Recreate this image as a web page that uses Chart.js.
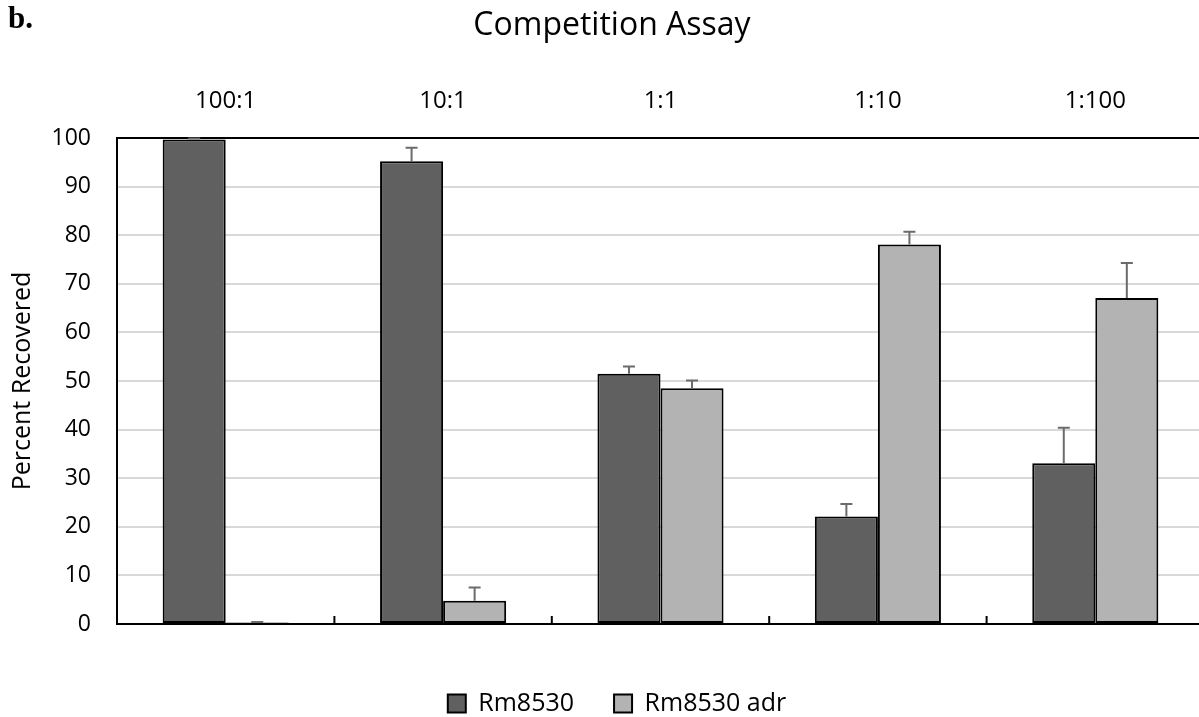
<!DOCTYPE html>
<html>
<head>
<meta charset="utf-8">
<script src="https://cdn.jsdelivr.net/npm/chart.js@4/dist/chart.umd.min.js"></script>
<style>
  html, body { margin: 0; padding: 0; background: #fff; overflow: hidden; }
  #wrap { position: relative; width: 1215px; height: 717px; }
  #tag { position: absolute; left: 8px; top: 0px; line-height: 1; font: bold 31px "Liberation Serif", serif; color: #000; }
</style>
</head>
<body>
<div id="wrap">
  <canvas id="myChart"></canvas>
  <div id="tag">b.</div>
</div>
<script>
const categories = ["100:1", "10:1", "1:1", "1:10", "1:100"];
const rm8530 = [99.7, 95.2, 51.5, 22.1, 33.1];
const rm8530Err = [0.2, 2.8, 1.5, 2.6, 7.3];
const rm8530adr = [0.3, 4.8, 48.5, 78.1, 67.1];
const rm8530adrErr = [0.1, 2.7, 1.6, 2.6, 7.2];
const yTicks = [0, 10, 20, 30, 40, 50, 60, 70, 80, 90, 100];

const fontName = "'Open Sans', sans-serif";

// error bars + inner ticks at the bottom, and nudge title/legend
const extras = {
    id: "extras",
    afterLayout(chart) {
        chart.titleBlock.left += 10; chart.titleBlock.right += 10;
        chart.legend.left += 15; chart.legend.right += 15;
        chart.legend.top += 27; chart.legend.bottom += 27;
    },
    afterDatasetsDraw(chart) {
        const ctx = chart.ctx;
        const y = chart.scales.y;
        const x = chart.scales.x;
        const errs = [rm8530Err, rm8530adrErr];
        ctx.save();
        ctx.strokeStyle = "#6b6b6b";
        ctx.lineWidth = 2;
        chart.data.datasets.forEach((ds, di) => {
            const meta = chart.getDatasetMeta(di);
            meta.data.forEach((bar, i) => {
                const top = y.getPixelForValue(ds.data[i]);
                const hi = y.getPixelForValue(ds.data[i] + errs[di][i]);
                ctx.beginPath();
                ctx.moveTo(bar.x, top);
                ctx.lineTo(bar.x, hi);
                ctx.moveTo(bar.x - 6, hi);
                ctx.lineTo(bar.x + 6, hi);
                ctx.stroke();
            });
        });
        // short tick marks between categories
        ctx.strokeStyle = "#000";
        const bottom = chart.chartArea.bottom;
        for (let i = 0; i < categories.length - 1; i++) {
            const px = (x.getPixelForValue(i) + x.getPixelForValue(i + 1)) / 2;
            ctx.beginPath();
            ctx.moveTo(px, bottom);
            ctx.lineTo(px, bottom - 8);
            ctx.stroke();
        }
        ctx.restore();
    }
};

new Chart(document.getElementById("myChart"), {
    type: "bar",
    data: {
        labels: categories,
        datasets: [
            {
                label: "Rm8530",
                data: rm8530,
                backgroundColor: "#606060",
                borderColor: "#000",
                borderWidth: 2,
                borderSkipped: false
            },
            {
                label: "Rm8530 adr",
                data: rm8530adr,
                backgroundColor: "#b3b3b3",
                borderColor: "#000",
                borderWidth: 2,
                borderSkipped: false
            }
        ]
    },
    options: {
        responsive: true,
        maintainAspectRatio: false,
        animation: false,
        layout: { padding: { left: 0, right: 11, top: 0, bottom: 18 } },
        datasets: { bar: { categoryPercentage: 0.58, barPercentage: 1.0 } },
        scales: {
            x: {
                position: "top",
                afterFit: (axis) => { axis.height = 52; },
                grid: { display: false, drawTicks: false },
                border: { display: true, color: "#000", width: 2 },
                ticks: { color: "#000", padding: 22.6, font: { family: fontName, size: 24 } }
            },
            y: {
                min: 0,
                max: 100,
                afterFit: (axis) => { axis.width = 117; },
                afterBuildTicks: (axis) => { axis.ticks = yTicks.map(v => ({ value: v })); },
                grid: {
                    drawTicks: false,
                    color: (c) => (c.tick && (c.tick.value === 0 || c.tick.value === 100)) ? "#000" : "#d9d9d9",
                    lineWidth: 2
                },
                border: { display: true, color: "#000", width: 2 },
                ticks: { color: "#000", padding: 26, font: { family: fontName, size: 23 } },
                title: {
                    display: true,
                    text: "Percent Recovered",
                    color: "#000",
                    padding: { top: 8, bottom: 0 },
                    font: { family: fontName, size: 25, lineHeight: 1.2 }
                }
            }
        },
        plugins: {
            title: {
                display: true,
                text: "Competition Assay",
                color: "#000",
                padding: { top: 6.8, bottom: 40.8 },
                font: { family: fontName, size: 32, weight: "normal" }
            },
            legend: {
                position: "bottom",
                labels: {
                    color: "#000",
                    boxWidth: 18,
                    boxHeight: 18,
                    padding: 40,
                    font: { family: fontName, size: 25 }
                }
            },
            tooltip: { enabled: false }
        }
    },
    plugins: [extras]
});
</script>
</body>
</html>
